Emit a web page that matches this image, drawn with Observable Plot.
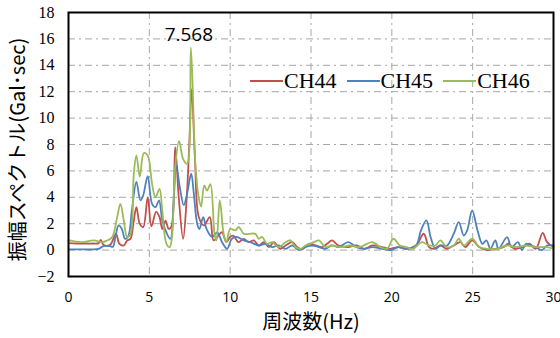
<!DOCTYPE html>
<html><head><meta charset="utf-8">
<script src="https://cdn.jsdelivr.net/npm/d3@7"></script>
<script src="https://cdn.jsdelivr.net/npm/@observablehq/plot@0.6"></script>
<style>
body{margin:0;background:#fff;}
#wrap{position:relative;width:560px;height:338px;}
#legend{position:absolute;left:250px;top:69px;display:flex;align-items:center;font-family:"Liberation Serif",serif;font-size:22px;color:#000;line-height:24px;}
.item{display:flex;align-items:center;margin-right:10px;}
.sw{display:inline-block;width:33px;height:2px;margin-right:1px;}
</style></head>
<body><div id="wrap"></div>
<script>
const seriesNames = ["CH44", "CH45", "CH46"];
const seriesColors = ["#C0504D", "#4F81BD", "#9BBB59"];
const xTicks = [0, 5, 10, 15, 20, 25, 30];
const yTicks = [-2, 0, 2, 4, 6, 8, 10, 12, 14, 16, 18];
const xTitle = "周波数(Hz)";
const yTitle = "振幅スペクトル(Gal･sec)";
const peakLabel = "7.568";

const f44 = [0,0.5,1.0,1.5,1.87, 2.0,2.16,2.57,2.94,3.15, 3.42,3.63,3.83,4.04,4.2, 4.41,4.62,4.9,5.13,5.42, 5.63,5.8,6.0,6.2,6.37, 6.6,6.82,7.09,7.3,7.47, 7.62,7.82,8.06,8.37,8.74, 8.98,9.36,9.5,9.77,10.0, 10.2,10.5,10.84,11.15,11.46, 11.77,12.08,12.4,12.7,13.1, 13.43,13.84,14.14,14.45,14.87, 15.28,15.7,16.0,16.3,16.7, 17.3,17.8,18.3,18.8,19.4, 19.9,20.4,20.9,21.5,21.97, 22.3,22.6,23.0,23.4,23.83, 24.24,24.55,24.97,25.4,25.9, 26.4,26.9,27.2,27.6,28.1, 28.5,28.9,29.33,29.6,30];
const v44 = [0.53,0.5,0.5,0.5,0.53, 0.78,0.4,0.4,1.23,0.47, 0.35,0.73,0.85,2.24,3.25, 1.99,1.74,4.0,1.8,2.9, 2.5,1.6,2.24,1.6,1.8, 7.8,4.0,0.85,3.7,8.0, 12.2,7.0,2.5,1.87,2.5, 0.73,1.23,1.35,0.6,1.0, 1.1,0.6,0.85,0.6,0.73, 0.35,0.6,0.23,0.6,0.1, 0.35,0.6,0.23,0.05,0.48, 0.35,0.23,0.48,0.73,0.35, 0.23,0.35,0.1,0.35,0.23, 0.1,0.23,0.1,0.35,1.24, 0.23,0.1,0.35,0.1,0.35, 0.6,0.23,0.73,0.23,0.0, 0.1,0.23,0.48,0.1,0.23, 0.48,0.1,1.3,0.6,0.23];

const f45 = [0,0.5,1.0,1.5,1.87, 2.16,2.57,2.75,2.9,3.1, 3.3,3.5,3.71,3.92,4.2, 4.45,4.62,4.9,5.17,5.38, 5.6,5.8,6.0,6.3,6.51, 6.66,6.88,7.13,7.34,7.59, 7.75,7.96,8.1,8.33,8.54, 8.89,9.2,9.5,9.81,10.1, 10.4,10.84,11.25,11.77,12.17, 12.6,13.0,13.43,13.84,14.25, 14.66,15.08,15.49,15.9,16.3, 16.7,17.3,17.8,18.3,18.8, 19.4,19.9,20.4,20.9,21.5, 21.8,22.14,22.4,22.7,23.0, 23.42,23.83,24.14,24.45,24.66, 24.97,25.3,25.6,25.85,26.1, 26.4,26.6,27.13,27.4,27.8, 28.05,28.3,28.6,28.9,29.3, 29.6,30];
const v45 = [0.05,0.05,0.05,0.05,0.1, 0.3,0.3,0.25,0.98,1.87, 1.6,0.85,1.1,3.0,5.17, 3.77,4.15,5.6,3.5,3.25, 3.77,2.24,1.5,0.85,3.77, 6.54,4.8,3.4,4.3,5.8, 4.3,2.0,1.6,2.5,1.6, 1.0,1.35,0.6,0.1,0.85, 1.0,0.73,0.6,0.35,0.48, 0.23,0.35,0.1,0.35,0.0, 0.23,0.35,0.23,0.1,0.35, 0.23,0.6,0.23,0.1,0.23, 0.1,0.0,0.23,0.1,0.35, 1.49,2.25,0.98,0.1,0.35, 0.35,1.24,2.12,1.1,1.49, 3.0,1.49,0.48,0.73,0.1, 0.73,0.1,0.98,0.23,0.6, 0.0,0.48,0.35,0.23,0.0, 0.35,0.35];

const f46 = [0,0.74,1.57,2.08,2.39, 2.7,3.01,3.21,3.42,3.63, 3.83,4.04,4.2,4.41,4.66, 4.9,5.17,5.38,5.63,5.8, 6.06,6.26,6.4,6.6,6.84, 7.09,7.34,7.57,7.85,8.05, 8.2,8.4,8.57,8.78,9.03, 9.15,9.36,9.6,9.77,10.0, 10.33,10.53,10.84,11.15,11.56, 11.77,11.97,12.28,12.6,13.0, 13.43,13.73,14.04,14.35,14.66, 15.18,15.49,15.9,16.3,16.82, 17.4,18.0,18.78,19.3,19.7, 20.1,20.5,20.9,21.3,21.87, 22.3,22.7,23.0,23.4,23.83, 24.14,24.45,24.97,25.4,25.9, 26.5,27.13,27.7,28.3,28.9, 29.6,30];
const v46 = [0.75,0.6,0.73,0.6,0.73, 0.98,2.5,3.5,2.24,0.98, 1.2,5.8,7.17,5.57,7.35, 7.17,5.0,4.0,4.64,3.0, 0.47,0.22,0.98,6.3,8.25, 6.9,6.54,15.35,6.5,4.0, 3.3,4.9,4.5,5.0,1.23, 0.73,3.76,1.2,0.6,1.6, 1.5,1.75,1.23,1.23,1.23, 0.86,1.0,0.48,0.6,0.23, 0.6,0.73,0.23,0.1,0.35, 0.6,0.73,0.23,0.35,0.23, 0.35,0.23,0.6,0.23,0.1, 0.86,0.35,0.23,0.1,0.6, 0.35,0.35,0.73,0.23,0.35, 0.86,0.35,0.86,0.23,0.1, 0.1,0.35,0.23,0.35,0.23, 0.23,0.1];

const data = [];
[[f44, v44], [f45, v45], [f46, v46]].forEach(([f, v], i) =>
  f.forEach((x, j) => data.push({f: x, v: v[j], s: seriesNames[i]})));

const peak = [{f: +peakLabel, v: d3.max(v46), t: peakLabel}];

const chart = Plot.plot({
  width: 560, height: 338,
  marginLeft: 68, marginRight: 7, marginTop: 12, marginBottom: 62,
  x: {domain: [0, 30]},
  y: {domain: [-2, 18]},
  color: {domain: seriesNames, range: seriesColors},
  style: {background: "#fff", overflow: "visible"},
  marks: [
    Plot.gridY(yTicks, {stroke: "#a6a6a6", strokeOpacity: 1, strokeDasharray: "7,4,2,4"}),
    Plot.gridX(xTicks, {stroke: "#a6a6a6", strokeOpacity: 1, strokeDasharray: "7,4,2,4"}),
    Plot.line(data, {x: "f", y: "v", z: "s", stroke: "s", strokeWidth: 1.8, curve: "catmull-rom"}),
    Plot.frame({stroke: "#000", strokeWidth: 2}),
    Plot.axisY(yTicks, {tickSize: 0, tickPadding: 14, fontFamily: "Liberation Serif", fontSize: 16, label: null}),
    Plot.axisX(xTicks, {tickSize: 0, tickPadding: 16, fontFamily: "Open Sans", fontSize: 14, label: null}),
    Plot.text([xTitle], {text: d => d, frameAnchor: "bottom", textAnchor: "middle", lineAnchor: "middle", dy: 46, fontFamily: "Noto Sans CJK JP", fontSize: 20}),
    Plot.text([yTitle], {text: d => d, frameAnchor: "left", textAnchor: "middle", lineAnchor: "middle", rotate: -90, dx: -50, dy: 5, fontFamily: "Noto Sans CJK JP", fontSize: 20}),
    Plot.text(peak, {x: "f", y: "v", text: "t", dy: -13, dx: -2, fontFamily: "Open Sans", fontSize: 19})
  ]
});

const wrap = document.getElementById("wrap");
wrap.appendChild(chart);
const legend = document.createElement("div");
legend.id = "legend";
seriesNames.forEach((n, i) => {
  const it = document.createElement("div");
  it.className = "item";
  const sw = document.createElement("span");
  sw.className = "sw";
  sw.style.background = seriesColors[i];
  const tx = document.createElement("span");
  tx.textContent = n;
  it.appendChild(sw); it.appendChild(tx);
  legend.appendChild(it);
});
wrap.appendChild(legend);
</script>
</body></html>
